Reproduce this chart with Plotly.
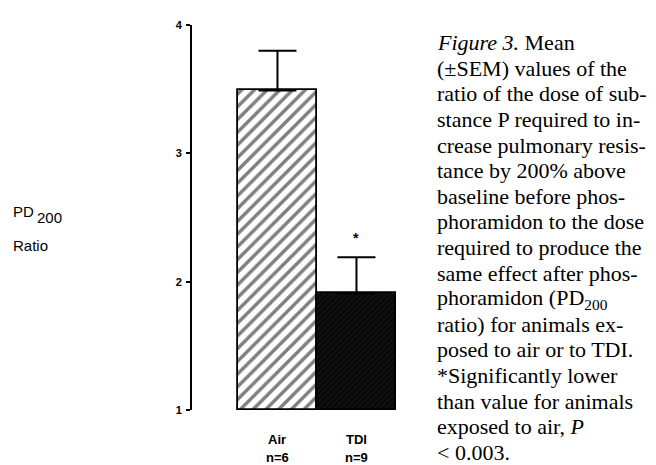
import plotly.graph_objects as go

# ---- data ----
categories = ["Air", "TDI"]
group_n = ["n=6", "n=9"]
means = [3.49, 1.91]
sems = [0.31, 0.28]
significant = [False, True]
y_ticks = [1, 2, 3, 4]

caption_lines = [
    "<i>Figure 3.</i> Mean",
    "(±SEM) values of the",
    "ratio of the dose of sub-",
    "stance P required to in-",
    "crease pulmonary resis-",
    "tance by 200% above",
    "baseline before phos-",
    "phoramidon to the dose",
    "required to produce the",
    "same effect after phos-",
    "phoramidon (PD<sub>200</sub>",
    "ratio) for animals ex-",
    "posed to air or to TDI.",
    "*Significantly lower",
    "than value for animals",
    "exposed to air, <i>P</i>",
    "< 0.003.",
]

W, H = 656, 465
OFF = 8  # page body margin
PL, PR, PT, PB = 192 - OFF, 400 - OFF, 19 - OFF, 410 - OFF  # plot area in figure pixels


def px(xp):
    return (xp - OFF - PL) / (PR - PL)


def py(yp):
    return (PB - (yp - OFF)) / (PB - PT)


x_pos = list(range(len(categories)))

fig = go.Figure()
fig.add_trace(go.Bar(
    x=[x_pos[0]], y=[means[0] - 1], base=1, width=1,
    marker=dict(color="white", line=dict(color="black", width=1.8),
                pattern=dict(shape="/", fgcolor="black", bgcolor="white",
                             size=9, solidity=0.38)),
    error_y=dict(type="data", symmetric=False, array=[sems[0]], arrayminus=[0],
                 color="black", thickness=2, width=19),
    showlegend=False,
))
fig.add_trace(go.Bar(
    x=[x_pos[1]], y=[means[1] - 1], base=1, width=1,
    marker=dict(color="#0c0c0c", line=dict(color="black", width=1.8),
                pattern=dict(shape="/", fgcolor="#2a2a2a", bgcolor="#080808",
                             size=4, solidity=0.25)),
    error_y=dict(type="data", symmetric=False, array=[sems[1]], arrayminus=[0],
                 color="black", thickness=2, width=19),
    showlegend=False,
))

sans = "Liberation Sans, Arial"
annotations = []
for i, (c, n) in enumerate(zip(categories, group_n)):
    annotations.append(dict(x=x_pos[i], y=py(440), xref="x", yref="paper",
                            text=f"<b>{c}</b>", showarrow=False, yanchor="middle",
                            font=dict(family=sans, size=13, color="black")))
    annotations.append(dict(x=x_pos[i], y=py(458), xref="x", yref="paper",
                            text=f"<b>{n}</b>", showarrow=False, yanchor="middle",
                            font=dict(family=sans, size=13, color="black")))
    if significant[i]:
        annotations.append(dict(x=x_pos[i], y=means[i] + sems[i] + 0.15, xref="x", yref="y",
                                text="<b>*</b>", showarrow=False, yanchor="middle",
                                font=dict(family=sans, size=14, color="black")))

# y-axis title pieces
annotations.append(dict(x=px(11), y=py(208.7), xref="paper", yref="paper", text="PD",
                        showarrow=False, xanchor="left", yanchor="middle",
                        font=dict(family=sans, size=15, color="black")))
annotations.append(dict(x=px(35), y=py(214.5), xref="paper", yref="paper", text="200",
                        showarrow=False, xanchor="left", yanchor="middle",
                        font=dict(family=sans, size=15, color="black")))
annotations.append(dict(x=px(11), y=py(242.7), xref="paper", yref="paper", text="Ratio",
                        showarrow=False, xanchor="left", yanchor="middle",
                        font=dict(family=sans, size=15, color="black")))

# caption, one annotation per line
for i, line in enumerate(caption_lines):
    annotations.append(dict(x=px(435), y=py(37 + i * 26.0), xref="paper", yref="paper",
                            text=line, showarrow=False,
                            xanchor="left", yanchor="middle", align="left",
                            font=dict(family="Liberation Serif, Times New Roman", size=22,
                                      color="black")))

fig.update_layout(
    width=W, height=H,
    margin=dict(l=PL, r=W - PR, t=PT, b=H - PB, pad=0),
    paper_bgcolor="white", plot_bgcolor="white",
    bargap=0,
    xaxis=dict(range=[-1.082, 1.551], visible=False, fixedrange=True),
    yaxis=dict(range=[1, 4], tickvals=y_ticks, ticktext=[f"<b>{t}</b>" for t in y_ticks],
               showline=True, linecolor="black", linewidth=2,
               ticks="outside", ticklen=4, tickwidth=1.5, tickcolor="black",
               ticklabelstandoff=2,
               showgrid=False, zeroline=False,
               tickfont=dict(family=sans, size=11, color="black")),
    annotations=annotations,
)

fig.write_html("out.html")
